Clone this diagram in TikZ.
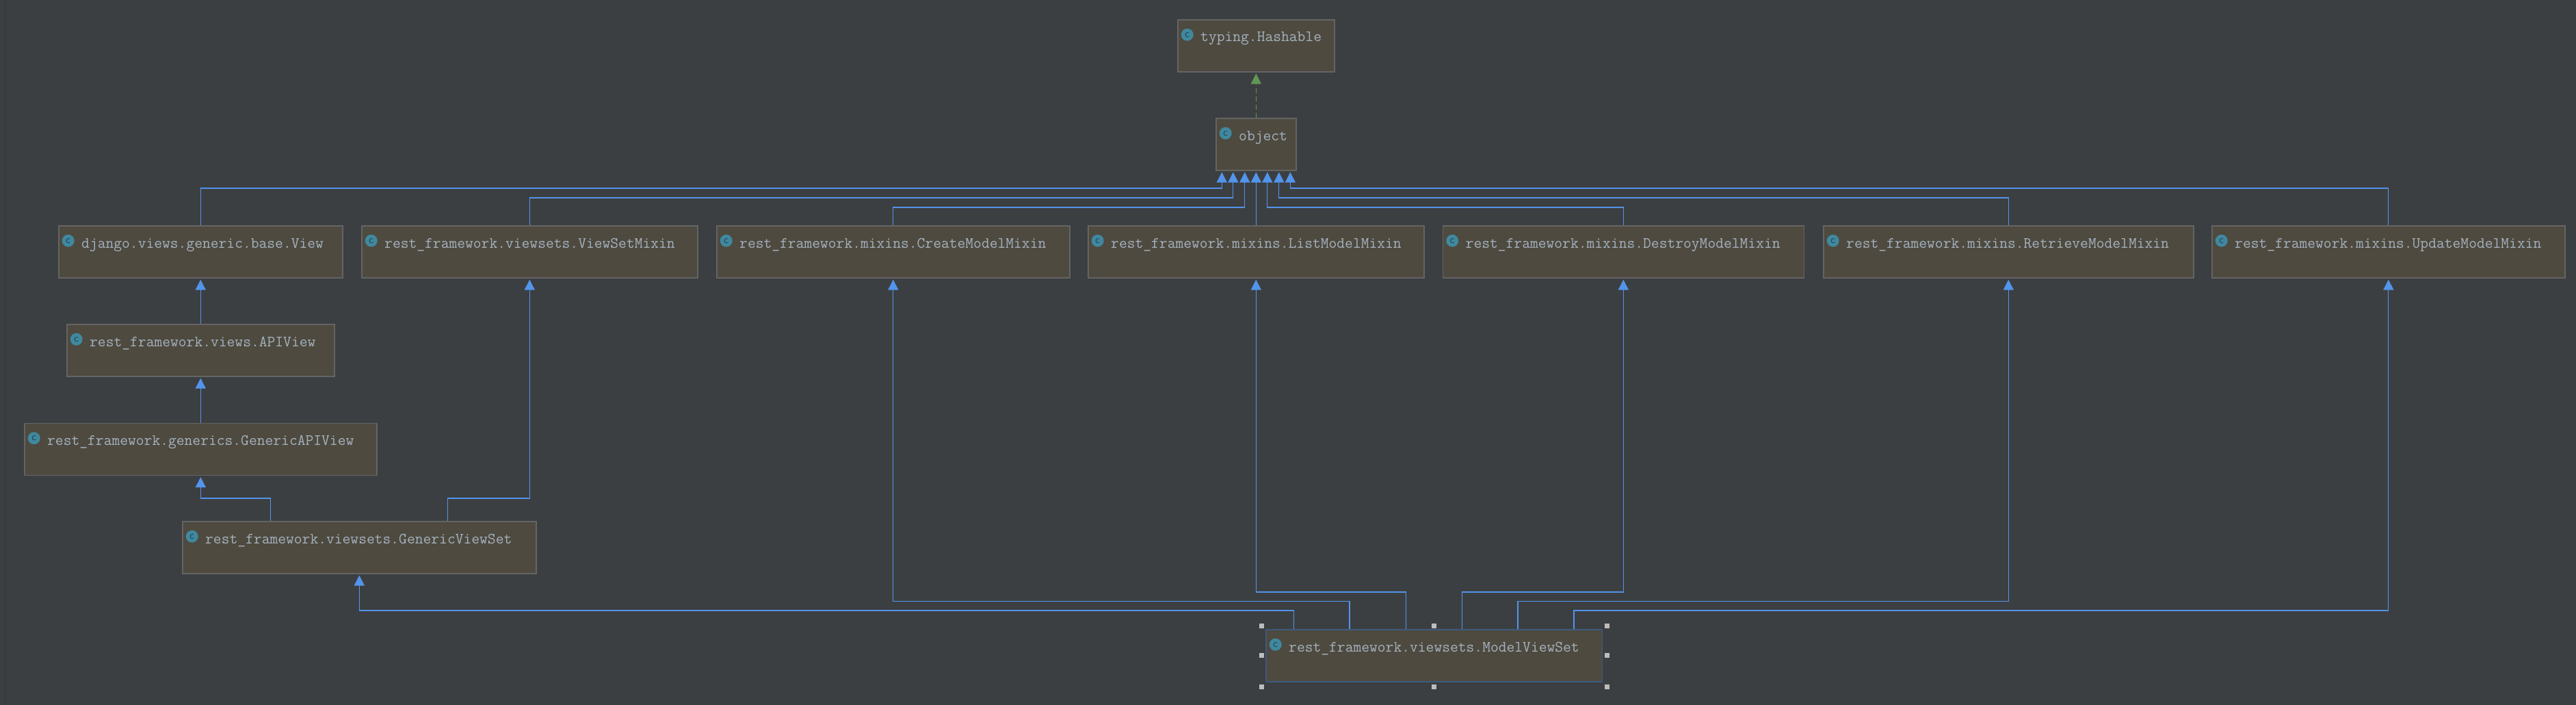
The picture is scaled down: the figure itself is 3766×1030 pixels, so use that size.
\documentclass[tikz,border=0pt]{standalone}
\usepackage{xcolor}
\usetikzlibrary{arrows.meta}
\definecolor{canvasbg}{HTML}{3C3F41}
\definecolor{canvasedge}{HTML}{333638}
\definecolor{boxfill}{HTML}{4E4A3F}
\definecolor{boxline}{HTML}{646464}
\definecolor{selline}{HTML}{3D5A80}
\definecolor{extblue}{HTML}{5394EC}
\definecolor{implgreen}{HTML}{629755}
\definecolor{iconteal}{HTML}{40889F}
\definecolor{icondark}{HTML}{1F3F4C}
\definecolor{classtxt}{HTML}{A5B2C0}
\definecolor{handle}{HTML}{BDBDBD}

\tikzset{
  classbox/.style={draw=boxline, fill=boxfill, line width=1.6pt, rectangle, inner sep=0pt, minimum height=76pt, anchor=north west},
  classicon/.style={circle, fill=iconteal, inner sep=0pt, minimum size=18pt, text=icondark, font=\fontsize{15}{15}\sffamily},
  classlabel/.style={anchor=base west, inner sep=0pt, text=classtxt, font=\fontsize{22.9}{22.9}\ttfamily},
  extends/.style={draw=extblue, line width=1.3pt, shorten >=2pt, -{Triangle[length=15pt,width=15pt,fill=extblue]}},
  implements/.style={draw=implgreen, line width=1.3pt, dash pattern=on 7pt off 5pt, shorten >=2pt, -{Triangle[length=15pt,width=15pt,fill=implgreen]}},
  selhandle/.style={rectangle, fill=handle, inner sep=0pt, minimum size=7pt}
}

\begin{document}
\begin{tikzpicture}[x=1pt,y=-1pt] % one unit is one pixel, y runs down
        \useasboundingbox[fill=canvasbg] (0,0) rectangle (3766,1030);
        \draw[canvasedge, line width=1.5pt] (7.5,0) -- (7.5,1030);

        % Top classes
        \node[classbox, minimum width=229pt] (hashable) at (1721,28) {};
        \node[classicon] (hashable-icon) at ([shift={(14.7,22.7)}]hashable.north west) {c};
        \node[classlabel] (hashable-text) at ([shift={(34,33)}]hashable.north west) {typing.Hashable};
        \node[classbox, minimum width=117pt] (object) at (1777,172) {};
        \node[classicon] (object-icon) at ([shift={(14.7,22.7)}]object.north west) {c};
        \node[classlabel] (object-text) at ([shift={(34,33)}]object.north west) {object};

        % Row of base classes
        \node[classbox, minimum width=415pt] (view) at (85,329) {};
        \node[classicon] (view-icon) at ([shift={(14.7,22.7)}]view.north west) {c};
        \node[classlabel] (view-text) at ([shift={(34,33)}]view.north west) {django.views.generic.base.View};
        \node[classbox, minimum width=491pt] (viewsetmixin) at (528,329) {};
        \node[classicon] (viewsetmixin-icon) at ([shift={(14.7,22.7)}]viewsetmixin.north west) {c};
        \node[classlabel] (viewsetmixin-text) at ([shift={(34,33)}]viewsetmixin.north west) {rest\_framework.viewsets.ViewSetMixin};
        \node[classbox, minimum width=516pt] (create) at (1047,329) {};
        \node[classicon] (create-icon) at ([shift={(14.7,22.7)}]create.north west) {c};
        \node[classlabel] (create-text) at ([shift={(34,33)}]create.north west) {rest\_framework.mixins.CreateModelMixin};
        \node[classbox, minimum width=491pt] (list) at (1590,329) {};
        \node[classicon] (list-icon) at ([shift={(14.7,22.7)}]list.north west) {c};
        \node[classlabel] (list-text) at ([shift={(34,33)}]list.north west) {rest\_framework.mixins.ListModelMixin};
        \node[classbox, minimum width=528pt] (destroy) at (2108.5,329) {};
        \node[classicon] (destroy-icon) at ([shift={(14.7,22.7)}]destroy.north west) {c};
        \node[classlabel] (destroy-text) at ([shift={(34,33)}]destroy.north west) {rest\_framework.mixins.DestroyModelMixin};
        \node[classbox, minimum width=541pt] (retrieve) at (2665,329) {};
        \node[classicon] (retrieve-icon) at ([shift={(14.7,22.7)}]retrieve.north west) {c};
        \node[classlabel] (retrieve-text) at ([shift={(34,33)}]retrieve.north west) {rest\_framework.mixins.RetrieveModelMixin};
        \node[classbox, minimum width=516pt] (update) at (3233,329) {};
        \node[classicon] (update-icon) at ([shift={(14.7,22.7)}]update.north west) {c};
        \node[classlabel] (update-text) at ([shift={(34,33)}]update.north west) {rest\_framework.mixins.UpdateModelMixin};

        % Left column
        \node[classbox, minimum width=391pt] (apiview) at (97,473) {};
        \node[classicon] (apiview-icon) at ([shift={(14.7,22.7)}]apiview.north west) {c};
        \node[classlabel] (apiview-text) at ([shift={(34,33)}]apiview.north west) {rest\_framework.views.APIView};
        \node[classbox, minimum width=515pt] (genericapi) at (35,617.5) {};
        \node[classicon] (genericapi-icon) at ([shift={(14.7,22.7)}]genericapi.north west) {c};
        \node[classlabel] (genericapi-text) at ([shift={(34,33)}]genericapi.north west) {rest\_framework.generics.GenericAPIView};
        \node[classbox, minimum width=517pt] (genericset) at (266,761) {};
        \node[classicon] (genericset-icon) at ([shift={(14.7,22.7)}]genericset.north west) {c};
        \node[classlabel] (genericset-text) at ([shift={(34,33)}]genericset.north west) {rest\_framework.viewsets.GenericViewSet};

        % Selected class with its handles
        \node[classbox, draw=selline, minimum width=491.5pt] (model) at (1850,919) {};
        \node[classicon] (model-icon) at ([shift={(14.7,22.7)}]model.north west) {c};
        \node[classlabel] (model-text) at ([shift={(34,33)}]model.north west) {rest\_framework.viewsets.ModelViewSet};
        \node[selhandle] (h1) at ([shift={(-5.5,-5)}]model.north west) {};
        \node[selhandle] (h2) at ([shift={(0,-5)}]model.north) {};
        \node[selhandle] (h3) at ([shift={(6.5,-5)}]model.north east) {};
        \node[selhandle] (h4) at ([shift={(-5.5,0)}]model.west) {};
        \node[selhandle] (h5) at ([shift={(6.5,0)}]model.east) {};
        \node[selhandle] (h6) at ([shift={(-5.5,7)}]model.south west) {};
        \node[selhandle] (h7) at ([shift={(0,7)}]model.south) {};
        \node[selhandle] (h8) at ([shift={(6.5,7)}]model.south east) {};

        % object implements Hashable
        \draw[implements] (object.north) -- (hashable.south);

        % Everything extends object
        \draw[extends] (view.north) -- ++(0,-54) -| ([xshift=-50pt]object.south);
        \draw[extends] (viewsetmixin.north) -- ++(0,-40) -| ([xshift=-33.5pt]object.south);
        \draw[extends] (create.north) -- ++(0,-26) -| ([xshift=-16.5pt]object.south);
        \draw[extends] (list.north) -- (object.south);
        \draw[extends] (destroy.north) -- ++(0,-26) -| ([xshift=16.5pt]object.south);
        \draw[extends] (retrieve.north) -- ++(0,-40) -| ([xshift=33.5pt]object.south);
        \draw[extends] (update.north) -- ++(0,-54) -| ([xshift=50pt]object.south);

        % Left column chain
        \draw[extends] (apiview.north) -- (view.south);
        \draw[extends] (genericapi.north) -- (apiview.south);
        \draw[extends] ([xshift=-129.5pt]genericset.north) -- ++(0,-33) -| (genericapi.south);
        \draw[extends] ([xshift=129pt]genericset.north) -- ++(0,-33) -| (viewsetmixin.south);

        % ModelViewSet extends
        \draw[extends] ([xshift=-205pt]model.north) -- ++(0,-27) -| (genericset.south);
        \draw[extends] ([xshift=-123.5pt]model.north) -- ++(0,-40.3) -| (create.south);
        \draw[extends] ([xshift=-41pt]model.north) -- ++(0,-54) -| (list.south);
        \draw[extends] ([xshift=41pt]model.north) -- ++(0,-54) -| (destroy.south);
        \draw[extends] ([xshift=122.5pt]model.north) -- ++(0,-40.3) -| (retrieve.south);
        \draw[extends] ([xshift=204.5pt]model.north) -- ++(0,-27) -| (update.south);
\end{tikzpicture}
\end{document}
